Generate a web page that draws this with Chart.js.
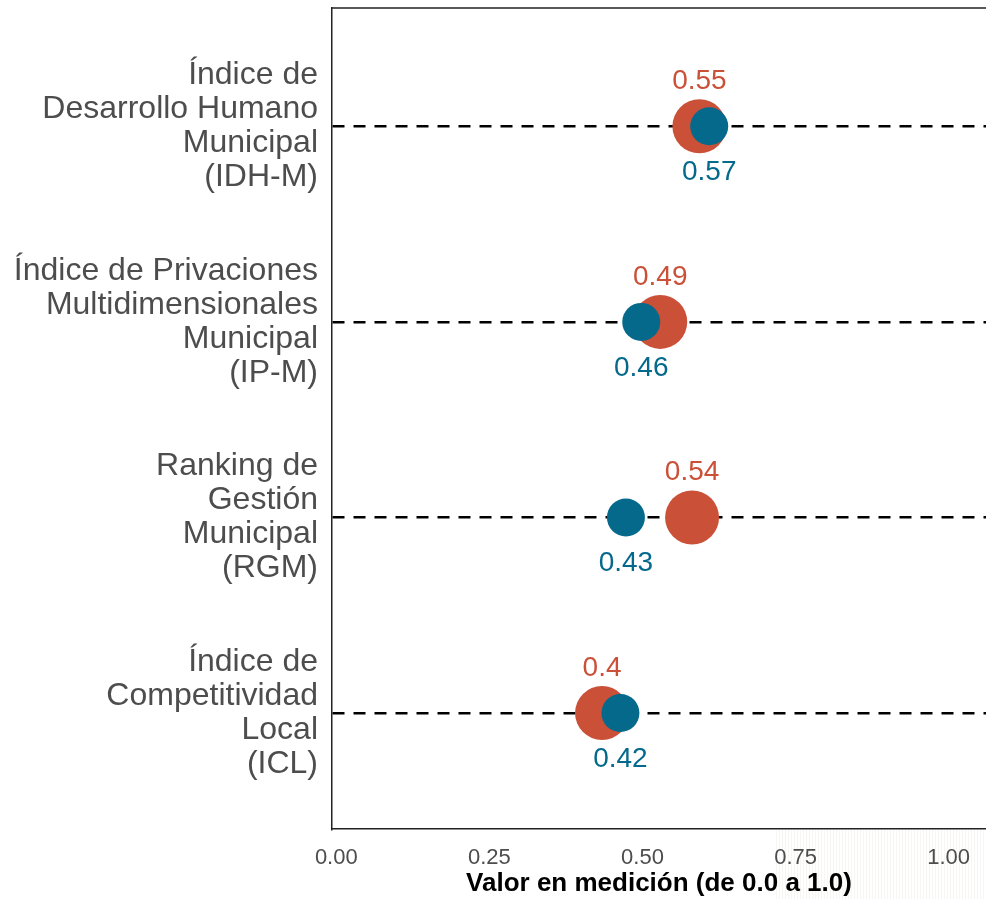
<!DOCTYPE html>
<html>
<head>
<meta charset="utf-8">
<script src="https://cdn.jsdelivr.net/npm/chart.js@4.4.1/dist/chart.umd.min.js"></script>
<style>
  html, body { margin: 0; padding: 0; background: #fff; }
  #wrap { width: 986px; height: 899px; }
</style>
</head>
<body>
<div id="wrap"><canvas id="mainChart" width="986" height="899"></canvas></div>
<script>
// categories, top to bottom
const indicators = [
  ['Índice de', 'Desarrollo Humano', 'Municipal', '(IDH-M)'],
  ['Índice de Privaciones', 'Multidimensionales', 'Municipal', '(IP-M)'],
  ['Ranking de', 'Gestión', 'Municipal', '(RGM)'],
  ['Índice de', 'Competitividad', 'Local', '(ICL)']
];

// plotted positions and printed labels
const redValues = [0.593, 0.529, 0.581, 0.434];
const blueValues = [0.609, 0.498, 0.473, 0.464];
const redLabels = ['0.55', '0.49', '0.54', '0.4'];
const blueLabels = ['0.57', '0.46', '0.43', '0.42'];

const xTicks = [0, 0.25, 0.5, 0.75, 1.0];

const RED = '#CB5038';
const BLUE = '#05698C';
const FONT = "'Liberation Sans', Arial, sans-serif";

const toPoints = vals => vals.map((v, i) => ({ x: v, y: i + 1 }));

// faint striped texture at the bottom right corner
const cornerTexture = {
  id: 'cornerTexture',
  beforeDraw(chart) {
    const { ctx, chartArea, width, height } = chart;
    ctx.save();
    ctx.strokeStyle = 'rgba(190, 180, 160, 0.12)';
    ctx.lineWidth = 1;
    for (let x = width - 210; x < width; x += 3) {
      ctx.beginPath();
      ctx.moveTo(x + 0.5, chartArea.bottom + 1);
      ctx.lineTo(x + 0.5, height);
      ctx.stroke();
    }
    ctx.restore();
  }
};

// y labels drawn by hand so the multi-line text doesn't eat the layout
const categoryLabels = {
  id: 'categoryLabels',
  afterDraw(chart) {
    const ctx = chart.ctx;
    const y = chart.scales.y;
    const lineH = 34;
    ctx.save();
    ctx.font = `32px ${FONT}`;
    ctx.fillStyle = '#4D4D4D';
    ctx.textAlign = 'right';
    ctx.textBaseline = 'middle';
    indicators.forEach((lines, i) => {
      const cy = y.getPixelForValue(i + 1);
      const start = cy - (lines.length - 1) * lineH / 2;
      lines.forEach((t, k) => ctx.fillText(t, chart.chartArea.left - 14, start + k * lineH));
    });
    ctx.restore();
  }
};

const valueLabels = {
  id: 'valueLabels',
  afterDatasetsDraw(chart) {
    const ctx = chart.ctx;
    ctx.save();
    ctx.font = `28px ${FONT}`;
    ctx.textAlign = 'center';
    ctx.textBaseline = 'middle';
    chart.getDatasetMeta(0).data.forEach((pt, i) => {
      ctx.fillStyle = RED;
      ctx.fillText(redLabels[i], pt.x, pt.y - 45);
    });
    chart.getDatasetMeta(1).data.forEach((pt, i) => {
      ctx.fillStyle = BLUE;
      ctx.fillText(blueLabels[i], pt.x, pt.y + 46);
    });
    ctx.restore();
  }
};

const panelTop = {
  id: 'panelTop',
  afterDraw(chart) {
    const { ctx, chartArea } = chart;
    ctx.save();
    ctx.strokeStyle = '#222';
    ctx.lineWidth = 1.5;
    ctx.beginPath();
    ctx.moveTo(chartArea.left, chartArea.top);
    ctx.lineTo(chartArea.right, chartArea.top);
    ctx.stroke();
    ctx.restore();
  }
};

const chart = new Chart(document.getElementById('mainChart').getContext('2d'), {
  type: 'scatter',
  data: {
    datasets: [
      {
        label: 'red',
        data: toPoints(redValues),
        backgroundColor: RED,
        borderWidth: 0,
        pointRadius: 27,
        pointHoverRadius: 27,
        clip: false,
        order: 1
      },
      {
        label: 'blue',
        data: toPoints(blueValues),
        backgroundColor: BLUE,
        borderWidth: 0,
        pointRadius: 19,
        pointHoverRadius: 19,
        clip: false,
        order: 0
      }
    ]
  },
  options: {
    responsive: false,
    animation: false,
    layout: { autoPadding: false, padding: { top: 8, right: 0, left: 0, bottom: 0 } },
    plugins: {
      legend: { display: false },
      tooltip: { enabled: false }
    },
    scales: {
      x: {
        type: 'linear',
        min: -0.007,
        max: 1.061,
        afterBuildTicks: axis => { axis.ticks = xTicks.map(v => ({ value: v })); },
        afterFit: axis => {
          axis.height = 70;
          axis.paddingLeft = 0;
          axis.paddingRight = 0;
        },
        grid: { display: false, drawTicks: false },
        border: { display: true, color: '#222', width: 1.5 },
        ticks: {
          color: '#4D4D4D',
          padding: 16,
          font: { family: FONT, size: 22 },
          callback: v => v.toFixed(2)
        },
        title: {
          display: true,
          text: 'Valor en medición (de 0.0 a 1.0)',
          color: '#000',
          padding: { top: 0, bottom: 0 },
          font: { family: FONT, size: 26, weight: 'bold' }
        }
      },
      y: {
        type: 'linear',
        reverse: true,
        min: 0.395,
        max: 4.593,
        afterBuildTicks: axis => { axis.ticks = indicators.map((c, i) => ({ value: i + 1 })); },
        afterFit: axis => {
          axis.width = 332;
          axis.paddingTop = 0;
          axis.paddingBottom = 0;
        },
        grid: {
          drawTicks: false,
          color: '#000',
          lineWidth: 2.5
        },
        border: { display: true, color: '#222', width: 1.5, dash: [12, 9] },
        ticks: { display: false }
      }
    }
  },
  plugins: [cornerTexture, categoryLabels, valueLabels, panelTop]
});
</script>
</body>
</html>
